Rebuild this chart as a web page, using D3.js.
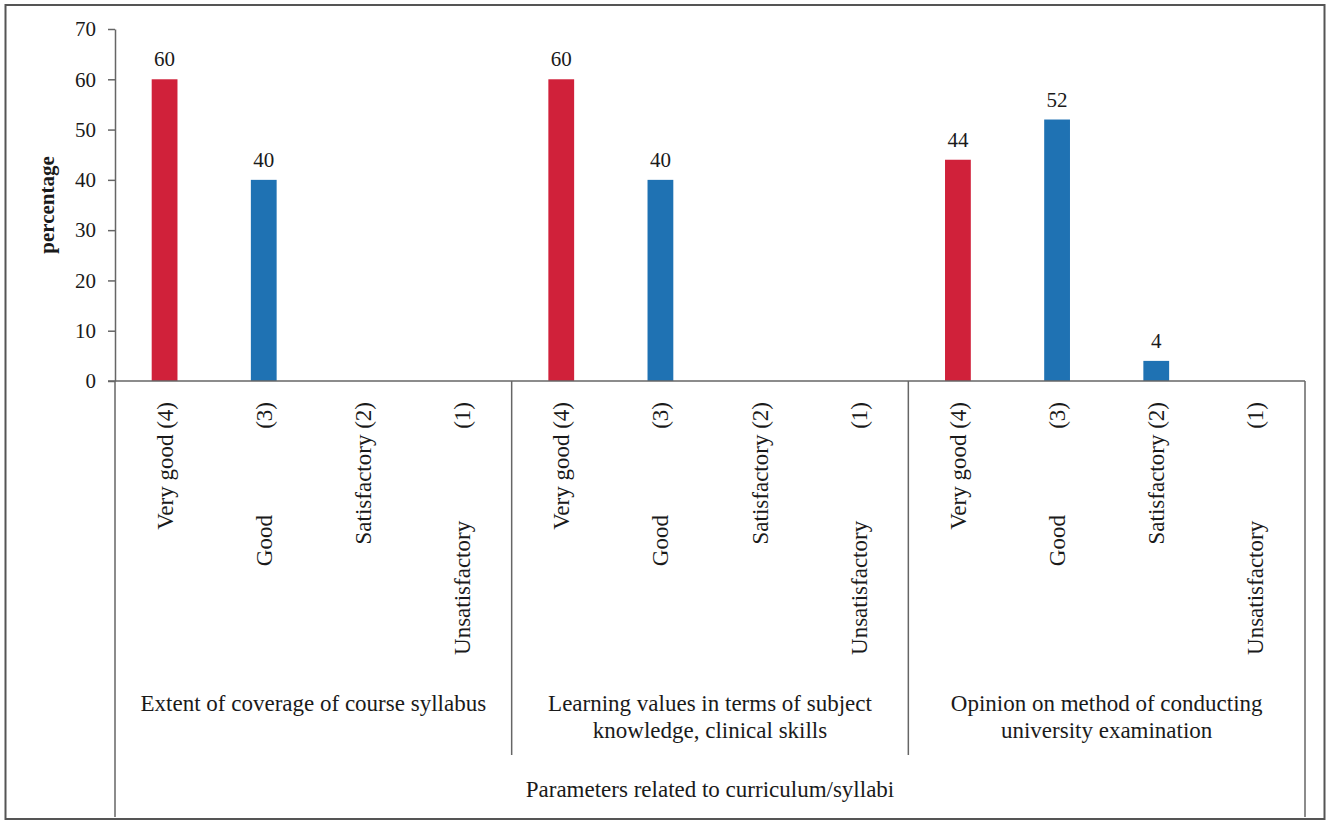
<!DOCTYPE html>
<html>
<head>
<meta charset="utf-8">
<script src="https://cdn.jsdelivr.net/npm/d3@7"></script>
<style>
  html, body { margin: 0; padding: 0; background: #ffffff; }
  svg { display: block; }
  text { font-family: "Liberation Serif", "Times New Roman", serif; fill: #1a1a1a; }
  .cat { white-space: pre; }
</style>
</head>
<body>
<svg id="chart" width="1329" height="824"></svg>
<script>
// ---- data ----
const groups = [
  "Extent of coverage of course syllabus",
  "Learning values in terms of subject knowledge, clinical skills",
  "Opinion on method of conducting university examination"
];
const groupLines = [
  ["Extent of coverage of course syllabus"],
  ["Learning values in terms of subject", "knowledge, clinical skills"],
  ["Opinion on method of conducting", "university examination"]
];
const ratings = ["Very good (4)", "Good (3)", "Satisfactory (2)", "Unsatisfactory (1)"];
const ratingLabels = ["Very good (4)", "Good               (3)", "Satisfactory (2)", "Unsatisfactory                (1)"];
const valuesExtent = [60, 40, 0, 0];
const valuesLearning = [60, 40, 0, 0];
const valuesOpinion = [44, 52, 4, 0];
const seriesValues = [valuesExtent, valuesLearning, valuesOpinion];
const yTicks = [0, 10, 20, 30, 40, 50, 60, 70];
const yTitle = "percentage";
const xTitle = "Parameters related to curriculum/syllabi";

// ---- layout ----
const svg = d3.select("#chart");
const plotL = 115, plotR = 1305, plotT = 29, plotB = 381;
const colors = { red: "#d0213a", blue: "#1f72b3" };

// frame
svg.append("rect").attr("x", 5.5).attr("y", 5).attr("width", 1319).attr("height", 814)
  .attr("fill", "#fff").attr("stroke", "#555").attr("stroke-width", 2);

const y = d3.scaleLinear().domain([0, 70]).range([plotB, plotT]);
const xg = d3.scaleBand().domain(d3.range(groups.length)).range([plotL, plotR]).padding(0);
const xr = d3.scaleBand().domain(ratings).range([0, xg.bandwidth()]).paddingInner(0.74).paddingOuter(0.37);

// y axis
const yAxis = svg.append("g").attr("transform", `translate(${plotL},0)`)
  .call(d3.axisLeft(y).tickValues(yTicks).tickSize(7).tickPadding(12).tickSizeOuter(0));
yAxis.select(".domain").attr("stroke", "#666").attr("stroke-width", 1.5);
yAxis.selectAll(".tick line").attr("stroke", "#666").attr("stroke-width", 1.5);
yAxis.selectAll(".tick text").style("font-family", "Liberation Serif").style("font-size", "21px").attr("fill", "#1a1a1a");

// y title
svg.append("text").attr("transform", `translate(${54},${(plotT + plotB) / 2}) rotate(-90)`)
  .attr("text-anchor", "middle").style("font-size", "21px").style("font-weight", "bold")
  .text(yTitle);

// bars
const bars = [];
seriesValues.forEach((vals, gi) => vals.forEach((v, ri) => bars.push({ gi, ri, v })));

svg.append("g").selectAll("rect").data(bars.filter(d => d.v > 0)).join("rect")
  .attr("x", d => xg(d.gi) + xr(ratings[d.ri]))
  .attr("width", xr.bandwidth())
  .attr("y", d => y(d.v))
  .attr("height", d => y(0) - y(d.v))
  .attr("fill", d => d.ri === 0 ? colors.red : colors.blue);

// value labels
svg.append("g").selectAll("text").data(bars.filter(d => d.v > 0)).join("text")
  .attr("x", d => xg(d.gi) + xr(ratings[d.ri]) + xr.bandwidth() / 2)
  .attr("y", d => y(d.v) - 13)
  .attr("text-anchor", "middle").style("font-size", "21px")
  .text(d => d.v);

// x axis lines
const axisG = svg.append("g").attr("stroke", "#666").attr("stroke-width", 1.5);
axisG.append("line").attr("x1", plotL - 7).attr("x2", plotR).attr("y1", y(0)).attr("y2", y(0));
axisG.append("line").attr("x1", plotL).attr("x2", plotL).attr("y1", y(0)).attr("y2", 817);
axisG.append("line").attr("x1", plotR).attr("x2", plotR).attr("y1", y(0)).attr("y2", 817);
axisG.selectAll("line.div").data(d3.range(1, groups.length)).join("line").attr("class", "div")
  .attr("x1", d => xg(d)).attr("x2", d => xg(d)).attr("y1", y(0)).attr("y2", 755);

// category labels
const cats = [];
groups.forEach((g, gi) => ratings.forEach((r, ri) => cats.push({ gi, ri })));
svg.append("g").selectAll("text").data(cats).join("text")
  .attr("class", "cat")
  .attr("transform", d => `translate(${xg(d.gi) + xr(ratings[d.ri]) + xr.bandwidth() / 2},${402}) rotate(-90)`)
  .attr("dy", "0.35em")
  .attr("text-anchor", "end").style("font-size", "23px")
  .text(d => ratingLabels[d.ri]);

// group labels
groupLines.forEach((lines, gi) => {
  const t = svg.append("text").attr("x", xg(gi) + xg.bandwidth() / 2).attr("y", 711)
    .attr("text-anchor", "middle").style("font-size", "23px");
  lines.forEach((ln, li) => t.append("tspan").attr("x", xg(gi) + xg.bandwidth() / 2).attr("dy", li === 0 ? 0 : 27).text(ln));
});

// x title
svg.append("text").attr("x", (plotL + plotR) / 2).attr("y", 797)
  .attr("text-anchor", "middle").style("font-size", "23px").text(xTitle);
</script>
</body>
</html>
